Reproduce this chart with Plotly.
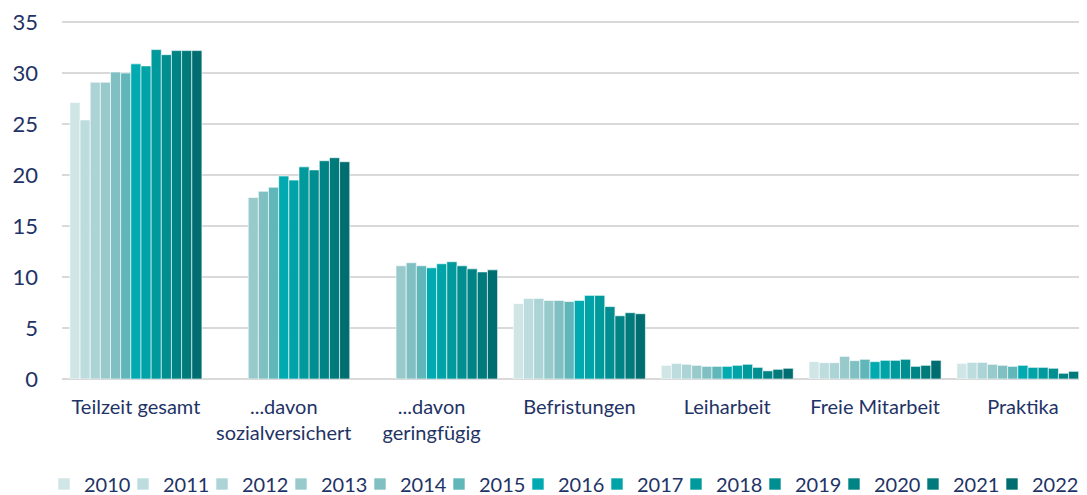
import plotly.graph_objects as go

# Kategorien und Werte (Anteile in %)
categories = ["Teilzeit gesamt", "...davon<br>sozialversichert", "...davon<br>geringfügig",
              "Befristungen", "Leiharbeit", "Freie Mitarbeit", "Praktika"]
years = [str(y) for y in range(2010, 2023)]

teilzeit = [27.1, 25.4, 29.1, 29.1, 30.1, 30.0, 30.9, 30.7, 32.3, 31.8, 32.2, 32.2, 32.2]
sozialversichert = [None, None, None, 17.8, 18.4, 18.8, 19.9, 19.5, 20.8, 20.5, 21.4, 21.7, 21.3]
geringfuegig = [None, None, None, 11.1, 11.4, 11.1, 10.9, 11.3, 11.5, 11.1, 10.8, 10.5, 10.7]
befristungen = [7.4, 7.9, 7.9, 7.7, 7.7, 7.6, 7.7, 8.2, 8.2, 7.1, 6.2, 6.5, 6.4]
leiharbeit = [1.34, 1.53, 1.44, 1.34, 1.24, 1.24, 1.24, 1.34, 1.44, 1.14, 0.8, 0.95, 1.05]
freie_mitarbeit = [1.7, 1.6, 1.6, 2.22, 1.8, 1.93, 1.7, 1.83, 1.83, 1.93, 1.24, 1.34, 1.83]
praktika = [1.53, 1.63, 1.63, 1.44, 1.34, 1.24, 1.34, 1.14, 1.14, 1.05, 0.56, 0.75, 0.75]

colors = ["#cfe5e6", "#bddcde", "#acd3d5", "#98cacc", "#80c0c3", "#60b6b9", "#00aab0",
          "#00a3a7", "#009a9c", "#008e90", "#008385", "#007a7b", "#006e70"]

series = [teilzeit, sozialversichert, geringfuegig, befristungen, leiharbeit, freie_mitarbeit, praktika]

text_color = "#1f3366"
font_family = "Lato, Carlito, Calibri, sans-serif"

fig = go.Figure()

for i, year in enumerate(years):
    fig.add_trace(go.Bar(
        x=categories,
        y=[s[i] for s in series],
        name=year,
        marker=dict(color=colors[i], line=dict(color="rgba(255,255,255,0.6)", width=1)),
        # last entry gets more room so its label is not clipped
        legendwidth=50 if i == len(years) - 1 else None,
    ))

# page body has an 8px margin, so the figure is sized to fit the remaining window
fig.update_layout(
    barmode="group",
    bargap=0.107,
    bargroupgap=0,
    width=1079,
    height=487,
    margin=dict(l=54, r=2, t=12, b=116, autoexpand=False),
    plot_bgcolor="white",
    paper_bgcolor="white",
    font=dict(family=font_family, color=text_color),
    legend=dict(
        orientation="h",
        x=-0.0176,
        xanchor="left",
        y=-0.2925,
        yanchor="middle",
        font=dict(size=20, color=text_color),
        entrywidth=34,
        itemwidth=30,
        traceorder="normal",
    ),
    showlegend=True,
)

fig.update_xaxes(
    range=[-0.5, 6.42],
    showgrid=False,
    showline=False,
    ticks="",
    tickfont=dict(size=20, color=text_color),
    ticklabelstandoff=14,
)

# a little headroom above 35 keeps the top gridline inside the plot area
fig.update_yaxes(
    range=[0, 35.2],
    tickmode="array",
    tickvals=[0, 5, 10, 15, 20, 25, 30, 35],
    ticklabeloverflow="allow",
    showgrid=True,
    gridcolor="#d9d9d9",
    gridwidth=2,
    zeroline=True,
    zerolinecolor="#d9d9d9",
    zerolinewidth=2,
    showline=False,
    ticks="",
    tickfont=dict(size=22, color=text_color),
    ticklabelstandoff=23,
)

fig.write_html("out.html")
